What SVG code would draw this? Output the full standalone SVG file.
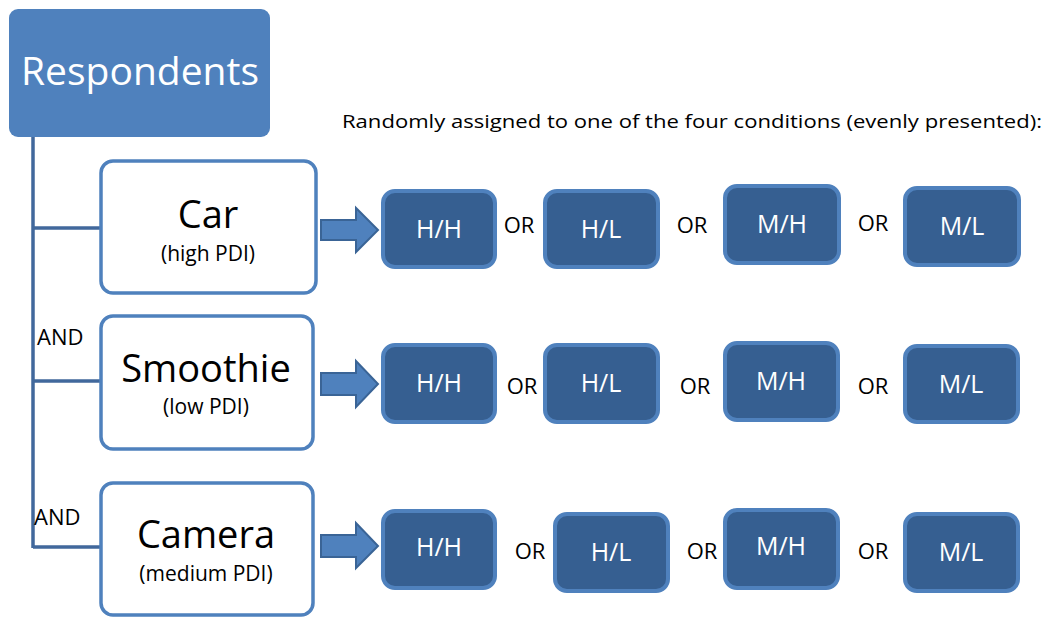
<svg xmlns="http://www.w3.org/2000/svg" width="1044" height="617" viewBox="0 0 1044 617">
<style>
.t{font-family:"Open Sans","Liberation Sans",sans-serif;}
.main{fill:#4F81BD;}
.prod{fill:#FFFFFF;stroke:#4F81BD;stroke-width:3.5;}
.cond{fill:#365F91;stroke:#4F81BD;stroke-width:4;}
.big{font-size:38px;fill:#000;text-anchor:middle;}
.sub{font-size:21px;fill:#000;text-anchor:middle;}
.ct{font-size:25px;fill:#FFFFFF;text-anchor:middle;}
.or{font-size:22px;fill:#000;text-anchor:middle;}
.and{font-size:22px;fill:#000;}
.arr{fill:#4F81BD;stroke:#3A6496;stroke-width:2;}
.ln{stroke:#41689C;stroke-width:3.5;fill:none;}
</style>
<rect width="1044" height="617" fill="#FFFFFF"/>
<g id="connectors">
<path class="ln" d="M33,137 V548 M33,228 H101 M33,381 H101 M33,547 H101"/>
<path class="arr" d="M321,220 H356 V208 L378,230 L356,252 V240 H321 Z"/>
<path class="arr" d="M321,373 H356 V361 L378,384 L356,407 V395 H321 Z"/>
<path class="arr" d="M321,535 H356 V523 L378,546 L356,568 V557 H321 Z"/>
</g>
<g id="respondents">
<rect class="main" x="9" y="9" width="261" height="128" rx="9"/>
<text class="t" x="140" y="85" font-size="39" fill="#FFFFFF" text-anchor="middle">Respondents</text>
</g>
<text class="t" x="342" y="128" font-size="19" fill="#000" textLength="700" lengthAdjust="spacingAndGlyphs">Randomly assigned to one of the four conditions (evenly presented):</text>
<g id="car">
<rect class="prod" x="101" y="161" width="215" height="132" rx="12"/>
<text class="t big" x="208" y="228">Car</text>
<text class="t sub" x="208" y="261">(high PDI)</text>
</g>
<g id="smoothie">
<rect class="prod" x="101" y="316" width="212" height="133" rx="12"/>
<text class="t big" x="206" y="382">Smoothie</text>
<text class="t sub" x="206" y="414">(low PDI)</text>
</g>
<g id="camera">
<rect class="prod" x="101" y="483" width="212" height="132" rx="12"/>
<text class="t big" x="206" y="548">Camera</text>
<text class="t sub" x="206" y="581">(medium PDI)</text>
</g>
<text class="t and" x="37" y="345">AND</text>
<text class="t and" x="34" y="525">AND</text>
<g id="car-hh"><rect class="cond" x="383" y="191" width="112" height="76" rx="12"/><text class="t ct" x="439" y="238">H/H</text></g>
<g id="car-hl"><rect class="cond" x="545" y="191" width="113" height="76" rx="12"/><text class="t ct" x="601" y="238">H/L</text></g>
<g id="car-mh"><rect class="cond" x="725" y="186" width="114" height="77" rx="12"/><text class="t ct" x="782" y="233">M/H</text></g>
<g id="car-ml"><rect class="cond" x="905" y="188" width="114" height="77" rx="12"/><text class="t ct" x="962" y="235">M/L</text></g>
<text class="t or" x="519" y="233">OR</text>
<text class="t or" x="692" y="233">OR</text>
<text class="t or" x="873" y="231">OR</text>
<g id="smoothie-hh"><rect class="cond" x="383" y="345" width="112" height="77" rx="12"/><text class="t ct" x="439" y="392">H/H</text></g>
<g id="smoothie-hl"><rect class="cond" x="545" y="345" width="113" height="77" rx="12"/><text class="t ct" x="601" y="392">H/L</text></g>
<g id="smoothie-mh"><rect class="cond" x="725" y="343" width="113" height="77" rx="12"/><text class="t ct" x="781" y="390">M/H</text></g>
<g id="smoothie-ml"><rect class="cond" x="905" y="346" width="113" height="76" rx="12"/><text class="t ct" x="961" y="393">M/L</text></g>
<text class="t or" x="522" y="394">OR</text>
<text class="t or" x="695" y="394">OR</text>
<text class="t or" x="873" y="394">OR</text>
<g id="camera-hh"><rect class="cond" x="383" y="511" width="112" height="77" rx="12"/><text class="t ct" x="439" y="556">H/H</text></g>
<g id="camera-hl"><rect class="cond" x="555" y="514" width="113" height="77" rx="12"/><text class="t ct" x="611" y="561">H/L</text></g>
<g id="camera-mh"><rect class="cond" x="725" y="510" width="113" height="78" rx="12"/><text class="t ct" x="781" y="555">M/H</text></g>
<g id="camera-ml"><rect class="cond" x="905" y="514" width="113" height="77" rx="12"/><text class="t ct" x="961" y="561">M/L</text></g>
<text class="t or" x="530" y="559">OR</text>
<text class="t or" x="702" y="559">OR</text>
<text class="t or" x="873" y="559">OR</text>
</svg>
